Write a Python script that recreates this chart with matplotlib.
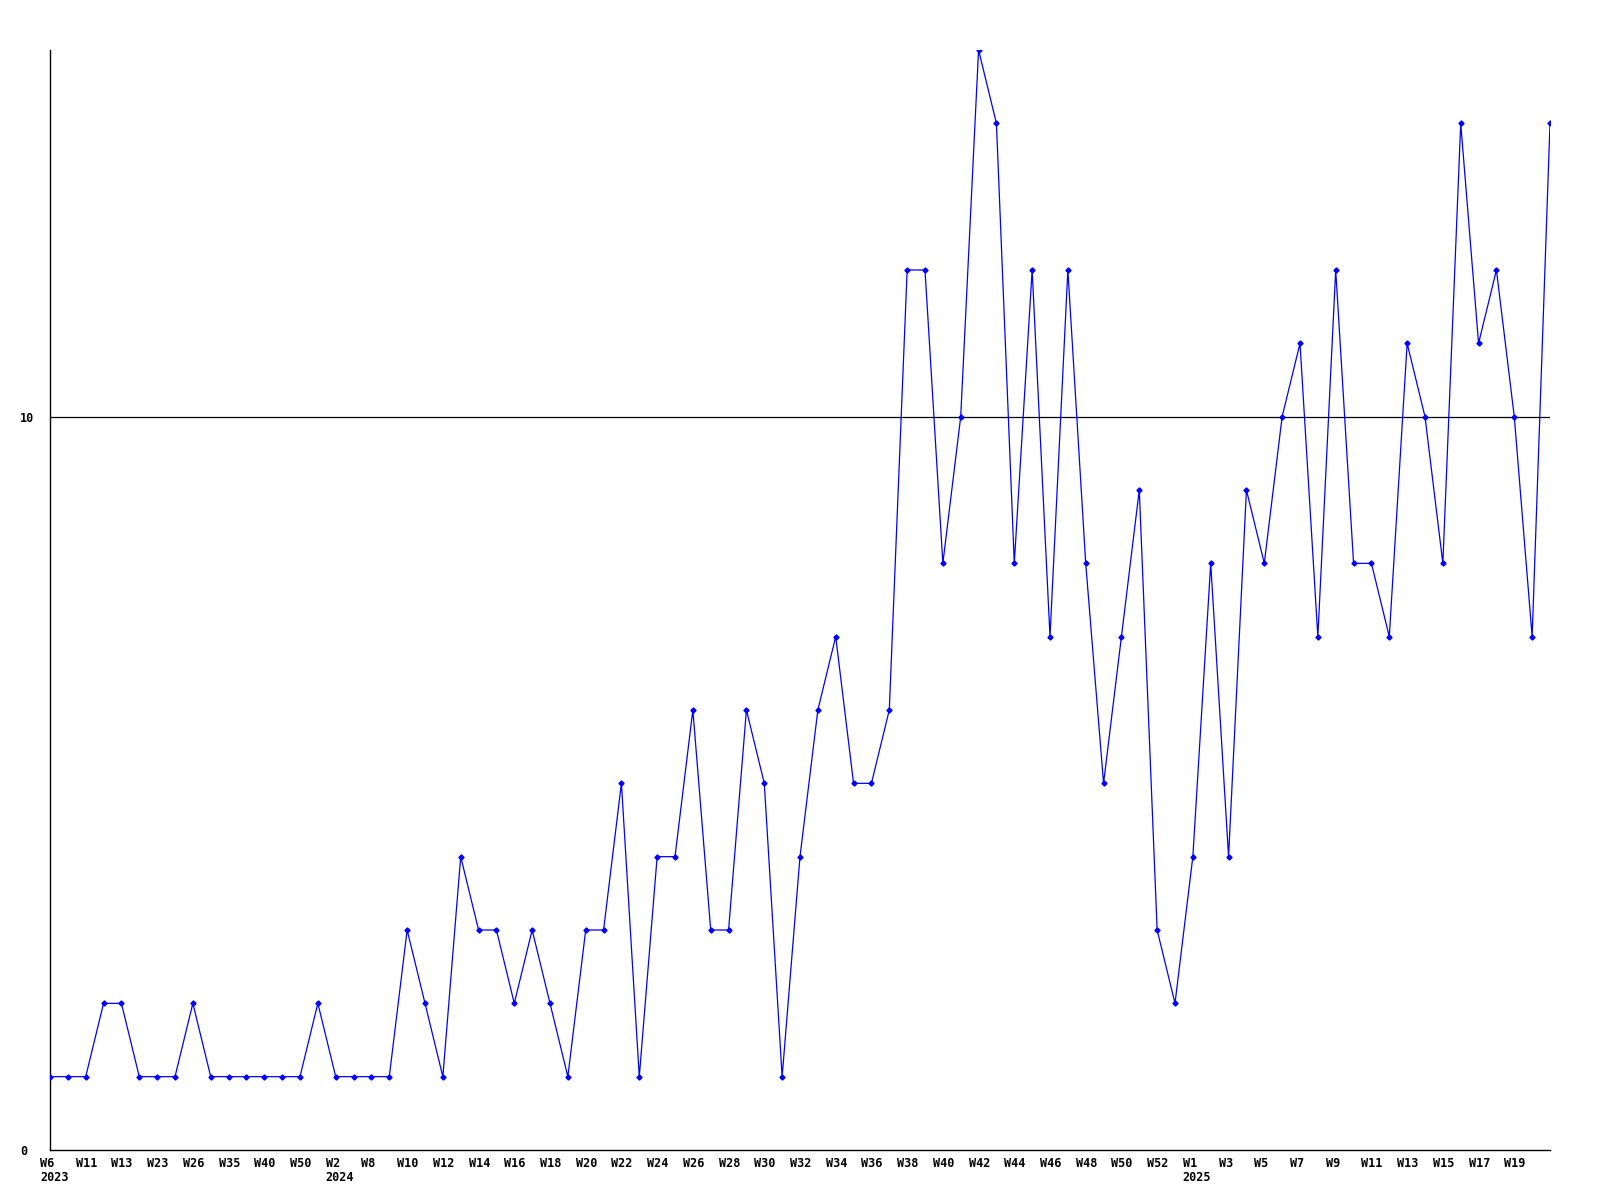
import matplotlib
matplotlib.use("Agg")
import matplotlib.pyplot as plt
from matplotlib.transforms import ScaledTranslation

# Week labels (every other point is labelled on the axis)
weeks = [
    "W6\n2023", "W8", "W11", "W12", "W13", "W20", "W23", "W25", "W26", "W30",
    "W35", "W38", "W40", "W45", "W50", "W1", "W2\n2024", "W5", "W8", "W9",
    "W10", "W11", "W12", "W13", "W14", "W15", "W16", "W17", "W18", "W19",
    "W20", "W21", "W22", "W23", "W24", "W25", "W26", "W27", "W28", "W29",
    "W30", "W31", "W32", "W33", "W34", "W35", "W36", "W37", "W38", "W39",
    "W40", "W41", "W42", "W43", "W44", "W45", "W46", "W47", "W48", "W49",
    "W50", "W51", "W52", "W53", "W1\n2025", "W2", "W3", "W4", "W5", "W6",
    "W7", "W8", "W9", "W10", "W11", "W12", "W13", "W14", "W15", "W16",
    "W17", "W18", "W19", "W20", "W21",
]
values = [
    1, 1, 1, 2, 2, 1, 1, 1, 2, 1,
    1, 1, 1, 1, 1, 2, 1, 1, 1, 1,
    3, 2, 1, 4, 3, 3, 2, 3, 2, 1,
    3, 3, 5, 1, 4, 4, 6, 3, 3, 6,
    5, 1, 4, 6, 7, 5, 5, 6, 12, 12,
    8, 10, 15, 14, 8, 12, 7, 12, 8, 5,
    7, 9, 3, 2, 4, 8, 4, 9, 8, 10,
    11, 7, 12, 8, 8, 7, 11, 10, 8, 14,
    11, 12, 10, 7, 14,
]
y_ticks = [0, 10]

fig = plt.figure(figsize=(16, 12), dpi=100)
ax = fig.add_axes([50 / 1600, 50 / 1200, 1500 / 1600, 1100 / 1200])

x = list(range(len(values)))
ax.plot(x, values, color="#0000ff", linewidth=0.9, marker="D", markersize=2.6,
        markerfacecolor="#0000ff", markeredgecolor="#0000ff", zorder=3)

ax.set_xlim(0, len(values) - 1)
ax.set_ylim(0, 15)

for s in ["top", "right"]:
    ax.spines[s].set_visible(False)
for s in ["left", "bottom"]:
    ax.spines[s].set_color("black")
    ax.spines[s].set_linewidth(1.0)

ax.axhline(10, color="black", linewidth=0.9, zorder=1)

font = dict(family="DejaVu Sans Mono", weight="bold", size=8.5)

tick_idx = x[0:len(values) - 2:2]
ax.set_xticks(tick_idx)
ax.set_xticklabels([weeks[i] for i in tick_idx], **font)
ax.tick_params(axis="x", length=0, pad=5)
for lab in ax.get_xticklabels():
    lab.set_ha("left")
    lab.set_va("top")
    lab.set_linespacing(1.1)
    lab.set_transform(lab.get_transform() + ScaledTranslation(-10 / 100, 0, fig.dpi_scale_trans))

ax.set_yticks(y_ticks)
ax.set_yticklabels([str(v) for v in y_ticks], **font)
ax.tick_params(axis="y", length=0, pad=21.6)
for lab in ax.get_yticklabels():
    lab.set_ha("left")

fig.savefig("out.png", dpi=100, facecolor="white")
